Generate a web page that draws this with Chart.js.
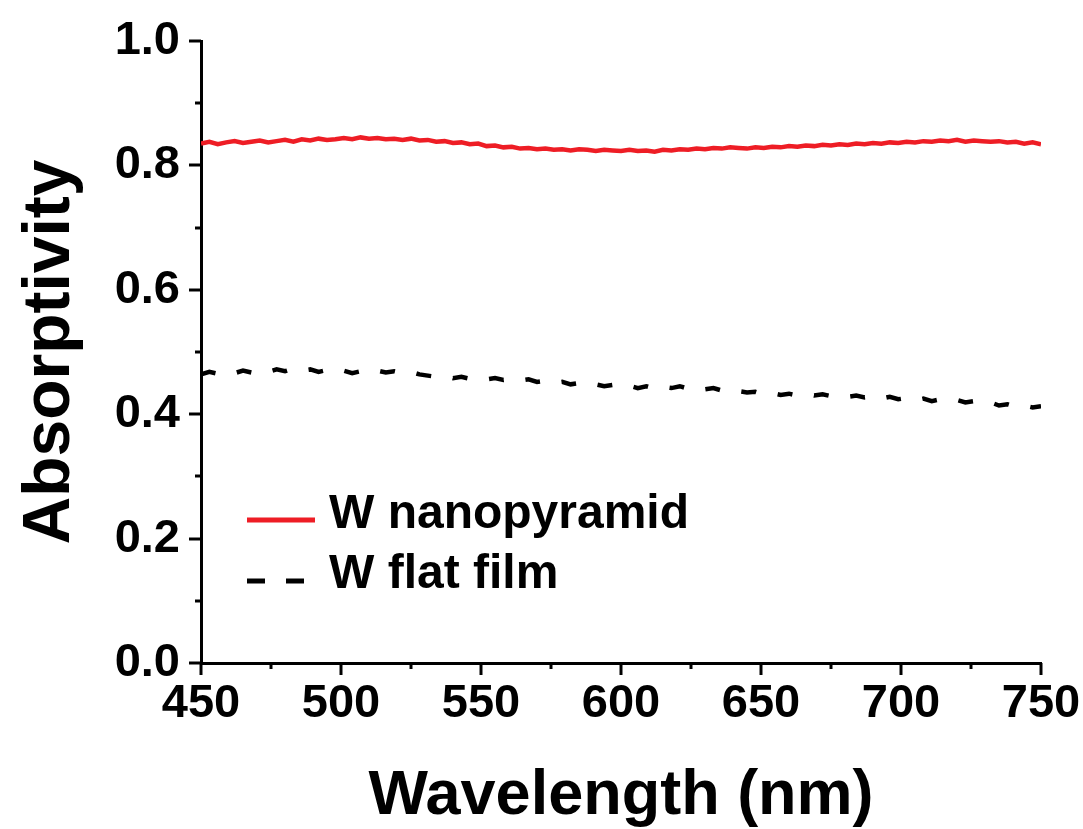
<!DOCTYPE html>
<html>
<head>
<meta charset="utf-8">
<script src="https://cdn.jsdelivr.net/npm/chart.js@4"></script>
<style>
  html, body { margin: 0; padding: 0; background: #ffffff; }
  #wrap { width: 1083px; height: 829px; }
</style>
</head>
<body>
<div id="wrap"><canvas id="c" width="1083" height="829"></canvas></div>
<script>
// ---- data ----
const wavelengths = [450,453,456,459,462,465,468,471,474,477,480,483,486,489,492,495,498,501,504,507,510,513,516,519,522,525,528,531,534,537,540,543,546,549,552,555,558,561,564,567,570,573,576,579,582,585,588,591,594,597,600,603,606,609,612,615,618,621,624,627,630,633,636,639,642,645,648,651,654,657,660,663,666,669,672,675,678,681,684,687,690,693,696,699,702,705,708,711,714,717,720,723,726,729,732,735,738,741,744,747,750];

const nanopyramid = [0.835,0.838,0.834,0.837,0.839,0.836,0.838,0.840,0.837,0.839,0.841,0.838,0.842,0.840,0.843,0.841,0.842,0.844,0.842,0.845,0.843,0.844,0.842,0.843,0.841,0.843,0.840,0.841,0.838,0.839,0.836,0.837,0.834,0.835,0.831,0.832,0.829,0.830,0.827,0.828,0.826,0.827,0.825,0.826,0.824,0.826,0.825,0.823,0.825,0.824,0.823,0.825,0.823,0.824,0.822,0.825,0.824,0.826,0.825,0.827,0.826,0.828,0.827,0.829,0.828,0.827,0.829,0.828,0.830,0.829,0.831,0.830,0.832,0.831,0.833,0.832,0.834,0.833,0.835,0.834,0.836,0.835,0.837,0.836,0.838,0.837,0.839,0.838,0.840,0.839,0.841,0.838,0.840,0.839,0.838,0.839,0.837,0.838,0.835,0.837,0.834];

const flatFilm = [0.464,0.468,0.465,0.469,0.466,0.470,0.467,0.471,0.468,0.472,0.469,0.473,0.470,0.472,0.468,0.471,0.467,0.470,0.466,0.469,0.466,0.470,0.467,0.469,0.466,0.468,0.464,0.462,0.460,0.462,0.458,0.460,0.457,0.459,0.456,0.458,0.455,0.457,0.454,0.456,0.452,0.454,0.450,0.452,0.448,0.450,0.446,0.448,0.445,0.447,0.443,0.446,0.442,0.445,0.441,0.444,0.442,0.445,0.441,0.444,0.440,0.442,0.438,0.441,0.437,0.435,0.436,0.432,0.434,0.431,0.433,0.430,0.433,0.430,0.432,0.429,0.431,0.428,0.430,0.427,0.429,0.425,0.428,0.424,0.426,0.422,0.425,0.421,0.424,0.421,0.423,0.419,0.421,0.417,0.419,0.414,0.416,0.412,0.414,0.411,0.413];

const seriesNames = ['W nanopyramid', 'W flat film'];
const xMajorTicks = [450, 500, 550, 600, 650, 700, 750];
const xMinorTicks = [475, 525, 575, 625, 675, 725];
const yMajorTicks = [0.0, 0.2, 0.4, 0.6, 0.8, 1.0];
const yMinorTicks = [0.1, 0.3, 0.5, 0.7, 0.9];
const xTitle = 'Wavelength (nm)';
const yTitle = 'Absorptivity';

// ---- styling ----
const FONT = '"Liberation Sans", Arial, Helvetica, sans-serif';
const RED = '#ee1d25';

function toPoints(xs, ys) { return xs.map((x, i) => ({ x: x, y: ys[i] })); }

const tickPlugin = {
  id: 'tickMarks',
  afterDraw(chart) {
    const ctx = chart.ctx;
    const xs = chart.scales.x, ys = chart.scales.y;
    const area = chart.chartArea;
    ctx.save();
    ctx.strokeStyle = '#000';
    ctx.lineWidth = 3;
    ctx.lineCap = 'butt';
    const drawX = (vals, len) => vals.forEach(v => {
      const px = Math.round(xs.getPixelForValue(v));
      ctx.beginPath(); ctx.moveTo(px, area.bottom); ctx.lineTo(px, area.bottom + len); ctx.stroke();
    });
    const drawY = (vals, len) => vals.forEach(v => {
      const py = Math.round(ys.getPixelForValue(v));
      ctx.beginPath(); ctx.moveTo(area.left, py); ctx.lineTo(area.left - len, py); ctx.stroke();
    });
    drawX(xMajorTicks, 12); drawX(xMinorTicks, 6);
    drawY(yMajorTicks, 12); drawY(yMinorTicks, 6);
    ctx.restore();
  }
};

const legendPlugin = {
  id: 'insideLegend',
  afterDraw(chart) {
    const ctx = chart.ctx;
    const ds = chart.data.datasets;
    const rows = [
      { lineY: 520, textY: 515 },
      { lineY: 581, textY: 575 }
    ];
    ctx.save();
    ds.forEach((d, i) => {
      const r = rows[i];
      ctx.strokeStyle = d.borderColor;
      ctx.lineWidth = 5;
      ctx.lineCap = 'butt';
      if (d.borderDash && d.borderDash.length) {
        ctx.beginPath(); ctx.moveTo(247, r.lineY); ctx.lineTo(265, r.lineY); ctx.stroke();
        ctx.beginPath(); ctx.moveTo(286, r.lineY); ctx.lineTo(304, r.lineY); ctx.stroke();
      } else {
        ctx.beginPath(); ctx.moveTo(247, r.lineY); ctx.lineTo(315, r.lineY); ctx.stroke();
      }
      ctx.fillStyle = '#000';
      ctx.font = 'bold 48px ' + FONT;
      ctx.textBaseline = 'middle';
      ctx.textAlign = 'left';
      ctx.fillText(d.label, 329, r.textY);
    });
    ctx.restore();
  }
};

new Chart(document.getElementById('c'), {
  type: 'line',
  data: {
    datasets: [
      {
        label: seriesNames[0],
        data: toPoints(wavelengths, nanopyramid),
        borderColor: RED,
        borderWidth: 4.5,
        pointRadius: 0,
        tension: 0,
        fill: false
      },
      {
        label: seriesNames[1],
        data: toPoints(wavelengths, flatFilm),
        borderColor: '#000000',
        borderWidth: 4.5,
        borderDash: [15, 22],
        pointRadius: 0,
        tension: 0,
        fill: false
      }
    ]
  },
  options: {
    responsive: false,
    animation: false,
    devicePixelRatio: 1,
    layout: { padding: { left: 0, top: 41, right: 42, bottom: 0 } },
    plugins: {
      legend: { display: false },
      tooltip: { enabled: false },
      title: { display: false }
    },
    scales: {
      x: {
        type: 'linear',
        min: 450,
        max: 750,
        afterFit(scale) { scale.height = 166; scale.paddingLeft = 0; scale.paddingRight = 0; },
        afterBuildTicks(scale) { scale.ticks = xMajorTicks.map(v => ({ value: v })); },
        grid: { display: false, drawTicks: false },
        border: { display: true, color: '#000', width: 3 },
        ticks: {
          autoSkip: false,
          maxRotation: 0,
          padding: 13,
          color: '#000',
          font: { family: FONT, size: 47, weight: 'bold' },
          callback: v => String(v)
        },
        title: {
          display: true,
          text: xTitle,
          color: '#000',
          font: { family: FONT, size: 63, weight: 'bold', lineHeight: 1 },
          padding: { top: 0, bottom: 1 }
        }
      },
      y: {
        type: 'linear',
        min: 0,
        max: 1,
        afterFit(scale) { scale.width = 201; scale.paddingTop = 0; scale.paddingBottom = 0; },
        afterBuildTicks(scale) { scale.ticks = yMajorTicks.map(v => ({ value: v })); },
        grid: { display: false, drawTicks: false },
        border: { display: true, color: '#000', width: 3 },
        ticks: {
          autoSkip: false,
          padding: 21,
          color: '#000',
          font: { family: FONT, size: 47, weight: 'bold' },
          callback: v => Number(v).toFixed(1)
        },
        title: {
          display: true,
          text: yTitle,
          color: '#000',
          font: { family: FONT, size: 66, weight: 'bold', lineHeight: 1 },
          padding: { top: 18, bottom: 0 }
        }
      }
    }
  },
  plugins: [tickPlugin, legendPlugin]
});
</script>
</body>
</html>
